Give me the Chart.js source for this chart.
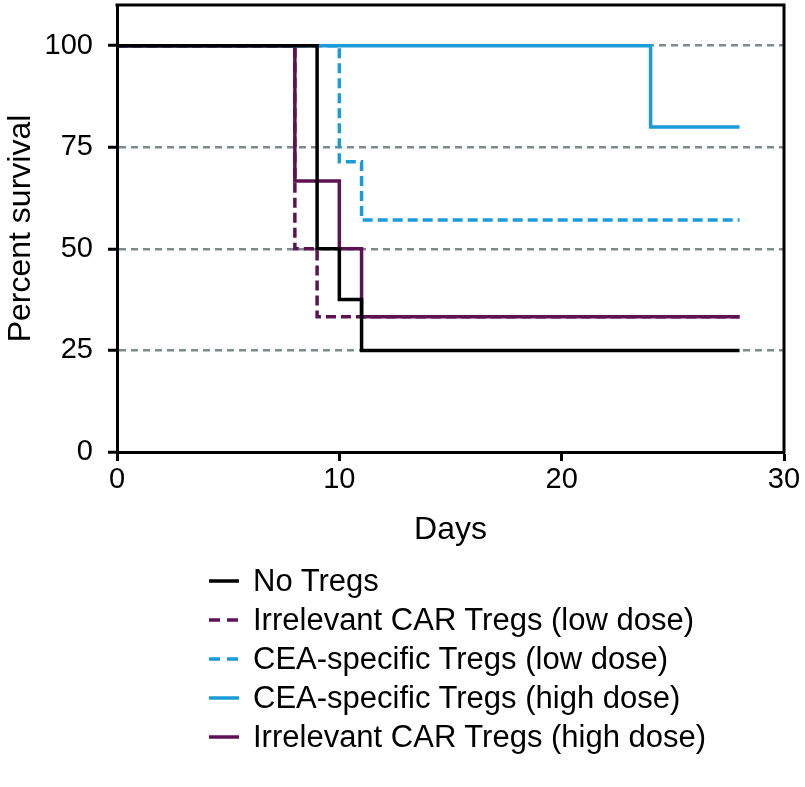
<!DOCTYPE html>
<html>
<head>
    <title>Percent survival</title>
    <script src="https://cdn.jsdelivr.net/npm/chart.js"></script>
    <style>
        body { margin: 0; background: #fff; }
        #wrap { position: relative; width: 805px; height: 787px; }
        #legend { position: absolute; left: 209px; top: 561px; font-family: "Liberation Sans", Arial, sans-serif; font-size: 31px; color: #000; }
        #legend div { height: 39px; line-height: 39px; white-space: nowrap; }
        #legend svg { vertical-align: middle; margin-right: 14px; position: relative; top: -2px; }
    </style>
</head>
<body>
    <div id="wrap">
        <canvas id="survChart" width="805" height="787"></canvas>
        <div id="legend"></div>
    </div>

    <script>
        // series: days of each step and percent survival after it
        const seriesNames = ['No Tregs', 'Irrelevant CAR Tregs (low dose)', 'CEA-specific Tregs (low dose)', 'CEA-specific Tregs (high dose)', 'Irrelevant CAR Tregs (high dose)'];
        const noTregsDays = [0, 9, 10, 11, 28];
        const noTregsSurv = [100, 50, 37.5, 25, 25];
        const irrLowDays = [0, 8, 9, 28];
        const irrLowSurv = [100, 50, 33.3, 33.3];
        const ceaLowDays = [0, 10, 11, 28];
        const ceaLowSurv = [100, 71.4, 57.1, 57.1];
        const ceaHighDays = [0, 24, 28];
        const ceaHighSurv = [100, 80, 80];
        const irrHighDays = [0, 8, 10, 11, 28];
        const irrHighSurv = [100, 66.7, 50, 33.3, 33.3];
        const xTicks = [0, 10, 20, 30];
        const yTicks = [0, 25, 50, 75, 100];

        const black = '#000000';
        const purple = '#5e1253';
        const blue = '#1b9bd8';
        const gridGray = '#7c8b8b';

        function pts(days, surv) {
            return days.map((d, i) => ({ x: d, y: surv[i] }));
        }

        function series(label, days, surv, color, dashed) {
            return {
                label: label,
                data: pts(days, surv),
                borderColor: color,
                backgroundColor: color,
                borderWidth: 3.5,
                borderDash: dashed ? [10, 5] : [],
                stepped: 'before',
                pointRadius: 0,
                fill: false
            };
        }

        const tickFont = { family: '"Liberation Sans", Arial, sans-serif', size: 29 };
        const titleFont = { family: '"Liberation Sans", Arial, sans-serif', size: 32 };

        // draws the top and right sides of the box round the plot
        const frame = {
            id: 'frame',
            afterDraw(chart) {
                const a = chart.chartArea;
                const c = chart.ctx;
                c.save();
                c.strokeStyle = black;
                c.lineWidth = 3;
                c.beginPath();
                c.moveTo(a.left - 1.5, a.top);
                c.lineTo(a.right, a.top);
                c.lineTo(a.right, a.bottom + 1.5);
                c.stroke();
                c.restore();
            }
        };

        const ctx = document.getElementById('survChart').getContext('2d');
        const chart = new Chart(ctx, {
            type: 'line',
            data: {
                datasets: [
                    series(seriesNames[0], noTregsDays, noTregsSurv, black, false),
                    series(seriesNames[1], irrLowDays, irrLowSurv, purple, true),
                    series(seriesNames[2], ceaLowDays, ceaLowSurv, blue, true),
                    series(seriesNames[3], ceaHighDays, ceaHighSurv, blue, false),
                    series(seriesNames[4], irrHighDays, irrHighSurv, purple, false)
                ]
            },
            options: {
                responsive: false,
                animation: false,
                layout: { padding: { left: 0, right: 21, top: 5, bottom: 232 } },
                plugins: { legend: { display: false }, tooltip: { enabled: false } },
                scales: {
                    x: {
                        type: 'linear',
                        min: 0,
                        max: 30,
                        afterBuildTicks: s => { s.ticks = xTicks.map(v => ({ value: v })); },
                        afterFit: s => { s.height = 103; s.paddingLeft = 0; s.paddingRight = 0; },
                        ticks: { color: black, font: tickFont, padding: 2, maxRotation: 0 },
                        grid: { drawOnChartArea: false, tickColor: black, tickWidth: 3, tickLength: 9 },
                        border: { color: black, width: 3 },
                        title: { display: true, text: 'Days', color: black, font: titleFont, padding: { top: 4, bottom: 6 } }
                    },
                    y: {
                        min: 0,
                        max: 110,
                        afterBuildTicks: s => { s.ticks = yTicks.map(v => ({ value: v })); },
                        afterFit: s => { s.width = 117; s.paddingTop = 0; s.paddingBottom = 0; },
                        ticks: { color: black, font: tickFont, padding: 15 },
                        grid: {
                            color: c => (c.tick && c.tick.value === 0) ? 'rgba(0,0,0,0)' : gridGray,
                            lineWidth: 2.5,
                            tickColor: black,
                            tickWidth: 3,
                            tickLength: 9,
                            tickBorderDash: []
                        },
                        border: { color: black, width: 3, dash: [7, 5] },
                        title: { display: true, text: 'Percent survival', color: black, font: titleFont, padding: { top: 2, bottom: 4 } }
                    }
                }
            },
            plugins: [frame]
        });

        // legend listed one per row under the chart
        const legend = document.getElementById('legend');
        chart.data.datasets.forEach(ds => {
            const row = document.createElement('div');
            const dash = ds.borderDash.length ? 'stroke-dasharray="11,7"' : '';
            row.innerHTML = '<svg width="30" height="6"><line x1="0" y1="3" x2="30" y2="3" stroke="' + ds.borderColor + '" stroke-width="3.5" ' + dash + '/></svg>';
            row.appendChild(document.createTextNode(ds.label));
            legend.appendChild(row);
        });
    </script>
</body>
</html>
